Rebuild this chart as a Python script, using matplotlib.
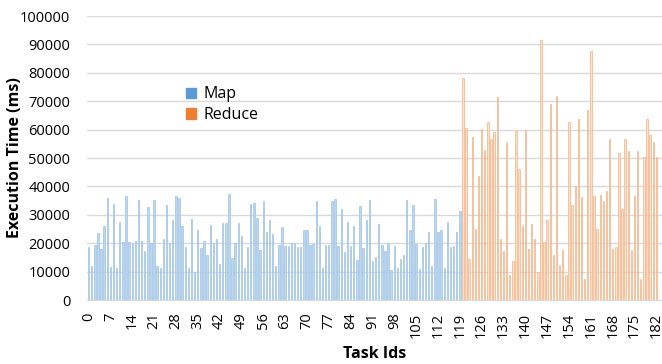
import numpy as np
import matplotlib
matplotlib.rcParams['font.family'] = ['Open Sans', 'DejaVu Sans']
import matplotlib.pyplot as plt
from matplotlib.patches import Patch

# execution time per task (ms); map tasks are 0..119, reduce tasks follow
mapTimes = [
	18700, 12100, 19300, 23500, 18100, 26200, 35800, 11700, 33900, 11400,
	27400, 20300, 36500, 20300, 19900, 20700, 35100, 20700, 17200, 32600,
	20200, 35100, 12100, 11100, 21600, 33600, 19900, 28000, 36500, 35800,
	26000, 18800, 11100, 28600, 10000, 24500, 18400, 20700, 16000, 26500,
	20100, 21500, 12800, 27000, 27000, 37200, 14900, 20000, 27200, 22700,
	11300, 18600, 33700, 34100, 28700, 17700, 34700, 23800, 28100, 23300,
	11900, 19200, 25600, 19000, 19000, 20100, 20100, 18600, 18800, 24700,
	24700, 19500, 19800, 34700, 25900, 11300, 19500, 19400, 34700, 35500,
	19100, 32200, 16900, 27300, 19000, 25900, 14200, 33100, 18300, 28300,
	35200, 13700, 15300, 26700, 19400, 17100, 20100, 10700, 19000, 11300,
	14500, 15700, 35100, 24800, 33400, 19800, 10800, 18800, 20000, 23800,
	11900, 35700, 23800, 24800, 11300, 27300, 18600, 19000, 23800, 31500,
]
reduceTimes = [
	78000, 60400, 14400, 57400, 25000, 43700, 60100, 52700, 62600, 56600,
	59200, 71400, 21400, 17100, 55700, 8700, 13800, 59400, 46200, 26100,
	60000, 18100, 26800, 21600, 9900, 91700, 20500, 28300, 69100, 15900,
	71800, 12300, 17500, 8800, 62700, 33400, 40000, 63800, 36200, 7500,
	67000, 87600, 36600, 24900, 37100, 34800, 38500, 56800, 18100, 18600,
	51900, 31900, 56800, 52500, 17500, 36600, 52600, 7500, 50500, 63600,
	58200, 55700, 50400,
]

mapIds = np.arange(len(mapTimes))
reduceIds = np.arange(len(mapTimes), len(mapTimes) + len(reduceTimes))

W, H = 662, 364
fig = plt.figure(figsize=(W / 100, H / 100), dpi=100)
ax = fig.add_axes([87 / W, 1 - 300 / H, (W - 87) / W, 284 / H])

ax.bar(mapIds, mapTimes, width=0.45, color='#bdd7ee', edgecolor='#9dc3e6',
	linewidth=0.5, zorder=2)
ax.bar(reduceIds, reduceTimes, width=0.45, color='#fbe0cc', edgecolor='#f4b183',
	linewidth=0.5, zorder=2)

ax.set_xlim(-0.5, 183.8)
ax.set_ylim(0, 100000)
ax.set_yticks(np.arange(0, 100001, 10000))
ax.set_xticks(np.arange(0, 183, 7))
ax.set_xticklabels([str(i) for i in range(0, 183, 7)], rotation=90)

ax.grid(axis='y', color='#d9d9d9', linewidth=1, zorder=0)
for side in ['top', 'right', 'left']:
	ax.spines[side].set_visible(False)
ax.spines['bottom'].set_color('#d9d9d9')
ax.tick_params(axis='y', length=0, pad=12, labelsize=10.5)
ax.tick_params(axis='x', length=0, pad=9, labelsize=10.5)

ax.set_xlabel('Task Ids', fontsize=11.5, fontweight='bold', labelpad=6)
fig.text(15 / W, 1 - 158 / H, 'Execution Time (ms)', rotation=90,
	fontsize=11.5, fontweight='bold', ha='center', va='center')

handles = [Patch(color='#5b9bd5', label='Map'), Patch(color='#ed7d31', label='Reduce')]
ax.legend(handles=handles, loc='upper left', frameon=False, fontsize=11.5,
	bbox_to_anchor=((172 - 87) / 575, (300 - 72) / 284),
	handlelength=0.6, handleheight=0.6, handletextpad=0.5, labelspacing=0.3)

plt.savefig('out.png', dpi=100)
